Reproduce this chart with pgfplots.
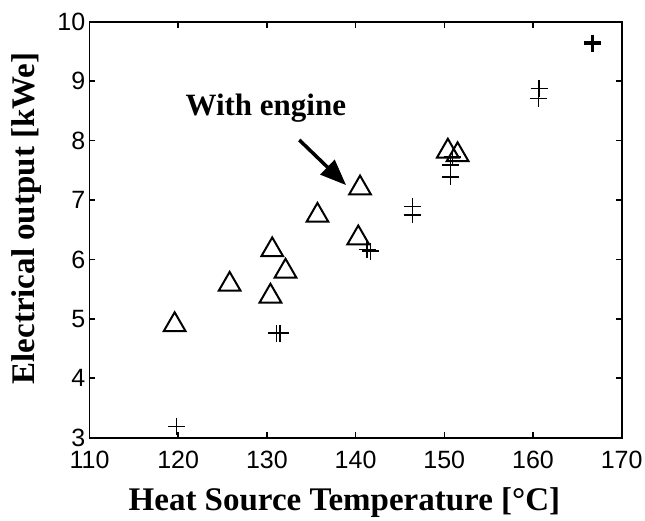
\documentclass[border=0pt]{standalone}
\usepackage{fontspec}
\setmainfont{Liberation Serif}
\newfontfamily\helv{Liberation Sans}
\usepackage{pgfplots}
\pgfplotsset{compat=1.18}
\usepackage{pgfplotstable}
\usetikzlibrary{arrows.meta}

% triangles: with engine
\pgfplotstableread{
x y
119.6 4.90
125.8 5.58
130.4 5.38
130.6 6.16
132.1 5.80
135.7 6.74
140.5 7.20
140.3 6.36
150.4 7.82
151.5 7.76
}\engine

% pluses
\pgfplotstableread{
x y
119.8 3.19
131.1 4.76
131.5 4.76
141.3 6.17
141.7 6.14
146.4 6.89
146.4 6.75
150.7 7.59
150.7 7.39
150.9 7.72
160.7 8.88
160.6 8.71
}\plain

\begin{document}
\begin{tikzpicture}
\path[use as bounding box] (-89.5pt,-82.3pt) rectangle (555.5pt,437.7pt);
\begin{axis}[
    at={(0,0)}, anchor=south west,
    scale only axis,
    width=532.2pt, height=416pt,
    xmin=110, xmax=170, ymin=3, ymax=10,
    xtick={110,120,...,170}, ytick={3,4,...,10},
    tick align=inside,
    major tick length=6pt,
    axis line style={line width=1.6pt},
    every tick/.style={line width=1.6pt, black},
    tick label style={font=\helv\fontsize{25}{25}\selectfont},
    xticklabel style={yshift=-13pt, inner sep=0pt, text depth=0pt},
    yticklabel style={inner xsep=4pt, inner ysep=0pt, text depth=0pt},
    /pgf/number format/assume math mode=true,
    xlabel={Heat Source Temperature [°C]},
    ylabel={Electrical output [kWe]},
    xlabel style={font=\bfseries\fontsize{33}{33}\selectfont,
        at={(axis description cs:0.479,-0.155)}, anchor=center},
    ylabel style={font=\bfseries\fontsize{33}{33}\selectfont,
        at={(axis description cs:-0.119,0.527)}, anchor=center},
    clip=false,
]
\addplot[only marks, mark=triangle, mark size=12.5pt,
    mark options={line width=2pt, black, fill=none}] table {\engine};
\addplot[only marks, mark=+, mark size=8.5pt,
    mark options={line width=1.5pt, black}] table {\plain};
\addplot[only marks, mark=+, mark size=8.5pt,
    mark options={line width=3.2pt, black}] coordinates {(166.7,9.64)};
\draw[line width=3.5pt, -{Triangle[length=26pt,width=20pt]}]
    (axis cs:133.65,8.01) -- (axis cs:138.93,7.25);
\node[anchor=base, font=\bfseries\fontsize{31}{31}\selectfont]
    at (axis cs:129.88,8.43) {With engine};
\end{axis}
\end{tikzpicture}
\end{document}
